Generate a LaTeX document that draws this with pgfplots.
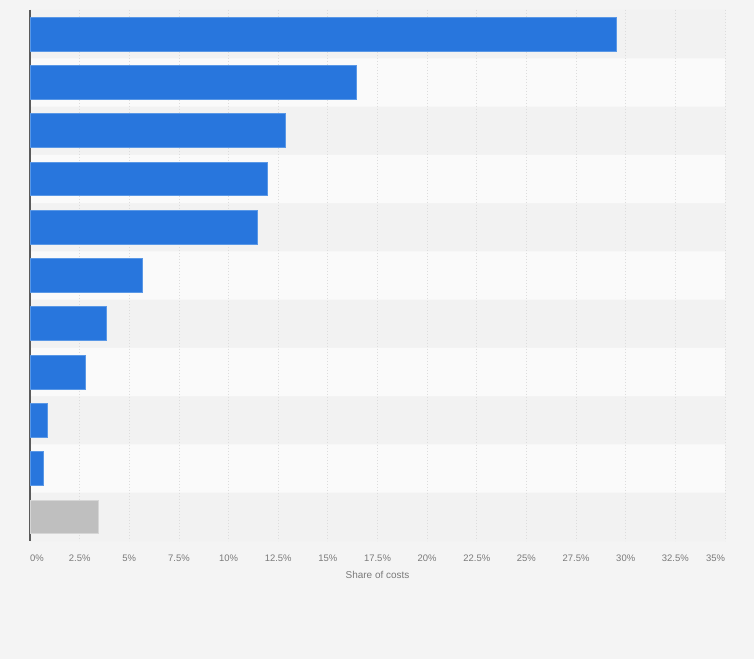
\documentclass[border=0pt]{standalone}
\usepackage{fontspec}
\setmainfont{Liberation Sans}
\usepackage{pgfplots}
\pgfplotsset{compat=1.18}
\definecolor{bg}{HTML}{F4F4F4}
\definecolor{banddark}{HTML}{F2F2F2}
\definecolor{bandlight}{HTML}{FAFAFA}
\definecolor{barblue}{HTML}{2876DD}
\definecolor{baredge}{HTML}{5A98E6}
\definecolor{bargray}{HTML}{BFBFBF}
\definecolor{grayedge}{HTML}{D6D6D6}
\definecolor{gridc}{HTML}{DCDCDC}
\definecolor{labc}{HTML}{7A7A7A}
\definecolor{axisc}{HTML}{5A5A5A}
\begin{document}
\begin{tikzpicture}
\begin{axis}[
  set layers, clip=false,
  width=695bp, height=531bp, scale only axis,
  xmin=0, xmax=35, ymin=0.5, ymax=11.5, y dir=reverse,
  axis lines*=left,
  x axis line style={draw=none},
  y axis line style={draw=axisc, line width=1.1bp},
  xtick={0,2.5,5,7.5,10,12.5,15,17.5,20,22.5,25,27.5,30,32.5,35},
  xticklabels={\makebox[0pt][l]{0\%},2.5\%,5\%,7.5\%,10\%,12.5\%,15\%,17.5\%,20\%,22.5\%,25\%,27.5\%,30\%,32.5\%,\makebox[0pt][r]{35\%}},
  ytick=\empty,
  major tick length=0pt,
  xmajorgrids,
  grid style={gridc, dash pattern=on 1.5bp off 1.5bp, line width=0.8bp},
  xticklabel style={font=\fontsize{9.5}{11}\selectfont, text=labc, yshift=-10bp},
  xlabel={Share of costs},
  xlabel style={font=\fontsize{10}{12}\selectfont, text=labc, yshift=-3bp},
  bar shift=0pt,
]
\addplot[sharp plot, fill=bg, draw=none, on layer=axis background]
  coordinates {(-1.5108,0.2928) (36.4604,0.2928) (36.4604,13.9446) (-1.5108,13.9446)} -- cycle;
\addplot[xbar, bar width=1, fill=banddark, draw=none, on layer=axis background]
  coordinates {(35,1) (35,3) (35,5) (35,7) (35,9) (35,11)};
\addplot[xbar, bar width=1, fill=bandlight, draw=none, on layer=axis background]
  coordinates {(35,2) (35,4) (35,6) (35,8) (35,10)};
\addplot[xbar, bar width=0.7, fill=barblue, draw=baredge, line width=0.8bp]
  coordinates {(29.54,1) (16.43,2) (12.86,3) (11.95,4) (11.45,5) (5.66,6) (3.84,7) (2.79,8) (0.87,9) (0.65,10)};
\addplot[xbar, bar width=0.7, fill=bargray, draw=grayedge, line width=0.8bp]
  coordinates {(3.44,11)};
\end{axis}
\end{tikzpicture}
\end{document}
